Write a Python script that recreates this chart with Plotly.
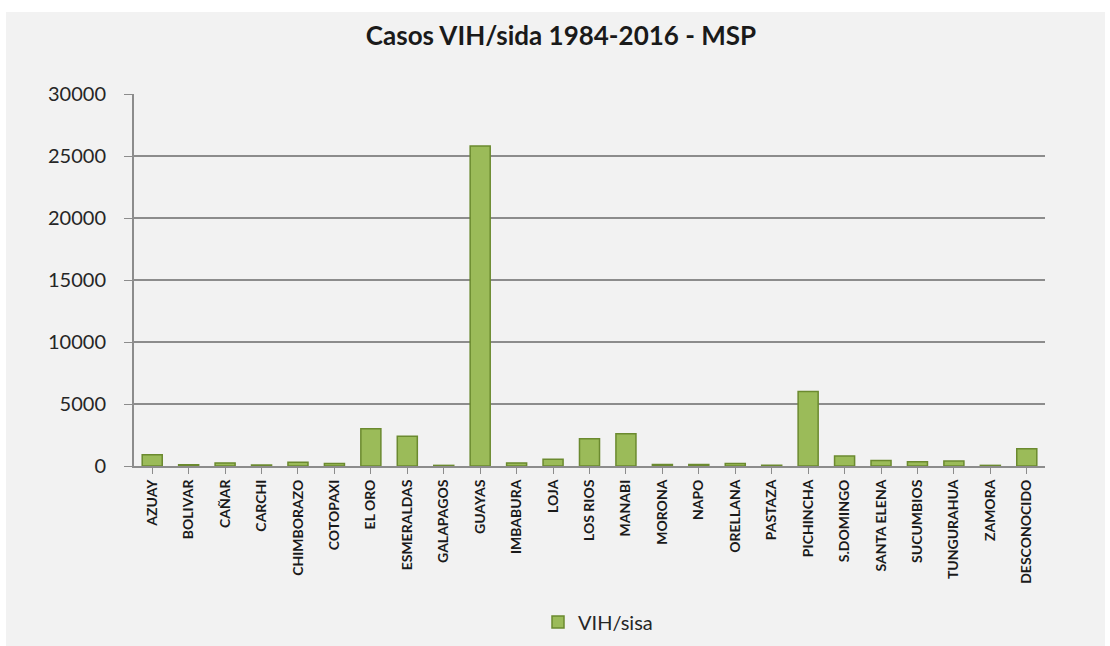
import plotly.graph_objects as go

categories = ["AZUAY", "BOLIVAR", "CAÑAR", "CARCHI", "CHIMBORAZO", "COTOPAXI",
              "EL ORO", "ESMERALDAS", "GALAPAGOS", "GUAYAS", "IMBABURA", "LOJA",
              "LOS RIOS", "MANABI", "MORONA", "NAPO", "ORELLANA", "PASTAZA",
              "PICHINCHA", "S.DOMINGO", "SANTA ELENA", "SUCUMBIOS", "TUNGURAHUA",
              "ZAMORA", "DESCONOCIDO"]
values = [900, 100, 250, 80, 300, 200,
          3000, 2400, 50, 25800, 250, 550,
          2200, 2600, 120, 120, 200, 60,
          6000, 800, 450, 350, 400,
          50, 1400]
series_name = "VIH/sisa"
title_text = "Casos VIH/sida 1984-2016 - MSP"
y_ticks = [0, 5000, 10000, 15000, 20000, 25000, 30000]

W, H = 1110, 646
L, R, T, B = 134, 65, 94, 180
pw, ph = W - L - R, H - T - B

def px_x(p):
    return (p - L) / pw

def px_y(p):
    return (H - B - p) / ph

fig = go.Figure()
fig.add_trace(go.Bar(
    x=categories, y=values, name=series_name,
    marker=dict(color="#9bbb59", line=dict(color="#6b8a2f", width=1.5)),
    width=0.55,
))

fig.update_layout(
    width=W, height=H,
    margin=dict(l=L, r=R, t=T, b=B, autoexpand=False),
    paper_bgcolor="white",
    plot_bgcolor="rgba(0,0,0,0)",
    font=dict(family="Lato, Open Sans, sans-serif", color="#262626"),
    title=dict(text=f"<b>{title_text}</b>", x=px_x(561), xref="paper",
               xanchor="center", y=1 - 36 / H, yanchor="middle",
               font=dict(size=26, color="#1a1a1a")),
    showlegend=True,
    legend=dict(orientation="h", x=px_x(538), xanchor="left",
                y=px_y(622), yanchor="middle", bgcolor="rgba(0,0,0,0)",
                font=dict(size=20, color="#262626")),
    bargap=0.45,
    shapes=[dict(type="rect", xref="paper", yref="paper",
                 x0=px_x(6), x1=px_x(1105), y0=px_y(646), y1=px_y(12),
                 fillcolor="#f2f2f2", line=dict(width=0), layer="below")],
)
fig.update_xaxes(
    tickangle=-90, tickfont=dict(size=14, color="#1a1a1a", family="Lato, sans-serif", weight="bold"),
    showline=True, linecolor="#8c8c8c", linewidth=2,
    ticks="outside", ticklen=6, tickcolor="#8c8c8c",
    showgrid=False, range=[-0.5, len(categories) - 0.5],
)
fig.update_yaxes(
    range=[0, 30000], tickvals=y_ticks, ticktext=[str(v) for v in y_ticks],
    tickfont=dict(size=20, color="#262626"),
    showline=True, linecolor="#8c8c8c", linewidth=2,
    ticks="outside", ticklen=8, tickcolor="#8c8c8c", ticklabelstandoff=14,
    showgrid=True, gridcolor="#8c8c8c", gridwidth=2, zeroline=False,
)
fig.write_html("out.html", config={"displayModeBar": False},
               post_script="document.body.style.margin='0';")
